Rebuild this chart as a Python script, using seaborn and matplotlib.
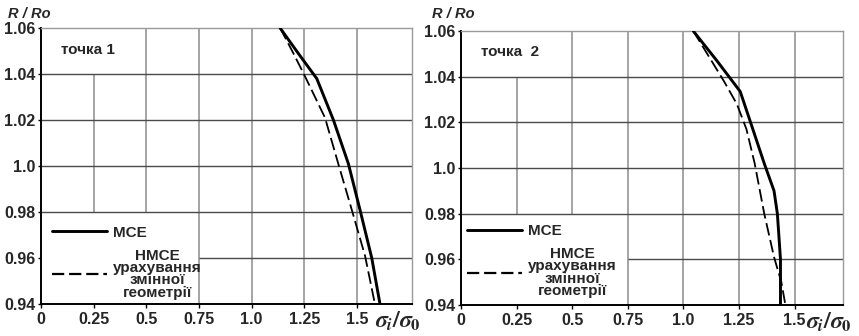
import numpy as np
import pandas as pd
import matplotlib
matplotlib.use("Agg")
import matplotlib.pyplot as plt
from matplotlib.lines import Line2D
import seaborn as sns

# ---------------- data ----------------
label_mce = "МСЕ"
label_nmce = "НМСЕ\nурахування\nзмінної\nгеометрії"

# panel 1 (точка 1)
p1_mce_sigma = [1.135, 1.221, 1.309, 1.388, 1.459, 1.514, 1.570, 1.609]
p1_mce_r     = [1.060, 1.049, 1.038, 1.020, 1.001, 0.981, 0.960, 0.940]
p1_nm_sigma  = [1.135, 1.198, 1.253, 1.348, 1.411, 1.475, 1.538, 1.585]
p1_nm_r      = [1.060, 1.049, 1.039, 1.021, 1.001, 0.981, 0.961, 0.940]

# panel 2 (точка 2)
p2_mce_sigma = [1.044, 1.150, 1.255, 1.298, 1.363, 1.407, 1.422, 1.436, 1.436]
p2_mce_r     = [1.060, 1.047, 1.0335, 1.021, 1.002, 0.990, 0.980, 0.960, 0.940]
p2_nm_sigma  = [1.044, 1.182, 1.240, 1.283, 1.320, 1.363, 1.407, 1.440, 1.458]
p2_nm_r      = [1.060, 1.038, 1.028, 1.017, 1.002, 0.980, 0.961, 0.950, 0.940]

x_ticks = [0, 0.25, 0.5, 0.75, 1.0, 1.25, 1.5]
x_tick_labels = ["0", "0.25", "0.5", "0.75", "1.0", "1.25", "1.5"]
y_ticks = [0.94, 0.96, 0.98, 1.00, 1.02, 1.04, 1.06]
y_tick_labels = ["0.94", "0.96", "0.98", "1.0", "1.02", "1.04", "1.06"]
panel_titles = ["точка 1", "точка  2"]

# ---------------- style ----------------
sns.set_theme(style="white")
plt.rcParams["font.family"] = ["Liberation Sans", "DejaVu Sans"]
plt.rcParams["font.weight"] = "bold"

fig = plt.figure(figsize=(8.59, 3.36), dpi=100)
W, H = 859.0, 336.0

def px_axes(x0, x1, ytop, ybot):
    return [x0 / W, 1 - ybot / H, (x1 - x0) / W, (ybot - ytop) / H]

ax1 = fig.add_axes(px_axes(41, 412, 28, 304))
ax2 = fig.add_axes(px_axes(461, 843, 31, 305))

panels = [
    (ax1, p1_mce_sigma, p1_mce_r, p1_nm_sigma, p1_nm_r, 1.761, panel_titles[0],
     (0.03, 0.015), 29),
    (ax2, p2_mce_sigma, p2_mce_r, p2_nm_sigma, p2_nm_r, 1.717, panel_titles[1],
     (0.015, 0.025), 453),
]

dash_pat = (7, 2.6)

for ax, ms, mr, ns, nr, xmax, title, leg_anchor, rlabel_x in panels:
    df = pd.concat([
        pd.DataFrame({"sigma": ms, "R": mr, "method": label_mce}),
        pd.DataFrame({"sigma": ns, "R": nr, "method": label_nmce}),
    ], ignore_index=True)
    sns.lineplot(data=df, x="sigma", y="R", style="method",
                 dashes={label_mce: "", label_nmce: dash_pat},
                 color="black", sort=False, estimator=None,
                 legend=False, ax=ax, zorder=5)
    ax.lines[0].set_linewidth(2.1)
    ax.lines[1].set_linewidth(1.3)

    ax.set_xlim(0, xmax)
    ax.set_ylim(0.94, 1.06)

    # partial grid as in the original drawing
    vcol, hcol = "#8c8c8c", "#4a4a4a"
    ax.vlines(0.25, 0.98, 1.04, color=vcol, lw=1.1, zorder=1)
    ax.vlines(0.5, 0.98, 1.06, color=vcol, lw=1.1, zorder=1)
    for xv in [0.75, 1.0, 1.25, 1.5]:
        ax.vlines(xv, 0.94, 1.06, color=vcol, lw=1.1, zorder=1)
    for yv in [0.98, 1.00, 1.02, 1.04]:
        ax.hlines(yv, 0, xmax, color=hcol, lw=1.0, zorder=1)
    ax.hlines(0.96, 0.75, xmax, color=hcol, lw=1.0, zorder=1)

    for side in ["top", "right"]:
        ax.spines[side].set_color("#9a9a9a")
        ax.spines[side].set_linewidth(1.0)
    for side in ["left", "bottom"]:
        ax.spines[side].set_color("black")
        ax.spines[side].set_linewidth(1.4)

    ax.set_xticks(x_ticks)
    ax.set_xticklabels(x_tick_labels, fontsize=11.5, fontweight="bold")
    ax.set_yticks(y_ticks)
    ax.set_yticklabels(y_tick_labels, fontsize=11.5, fontweight="bold")
    ax.tick_params(axis="x", length=3, width=1, color="black", pad=3, bottom=True)
    ax.tick_params(axis="y", length=2, width=1, color="black", pad=2, left=True)
    ax.set_xlabel("")
    ax.set_ylabel("")

    ax.text(0.053, 0.922, title, transform=ax.transAxes, fontsize=11,
            fontweight="bold", ha="left", va="center")
    ax.text(0.963, -0.064, r"$\sigma_i/\sigma_0$", transform=ax.transAxes,
            fontsize=17, ha="center", va="center", math_fontfamily="stix",
            clip_on=False)
    fig.text(rlabel_x / W, 1 - 14 / H, "R / Ro", fontsize=10.5, style="italic",
             fontweight="bold", ha="center", va="center")

    handles = [
        Line2D([], [], color="black", lw=2.1),
        Line2D([], [], color="black", lw=1.6, dashes=(5.5, 2.2)),
    ]
    leg = ax.legend(handles, [label_mce, label_nmce], loc="lower left",
                    bbox_to_anchor=leg_anchor, frameon=False, borderpad=0,
                    borderaxespad=0, handlelength=3.6, handletextpad=0.4,
                    labelspacing=0.6, prop={"size": 11, "weight": "bold"})
    for t in leg.get_texts():
        t.set_multialignment("center")
        t.set_linespacing(0.85)

fig.savefig("out.png", dpi=100)
